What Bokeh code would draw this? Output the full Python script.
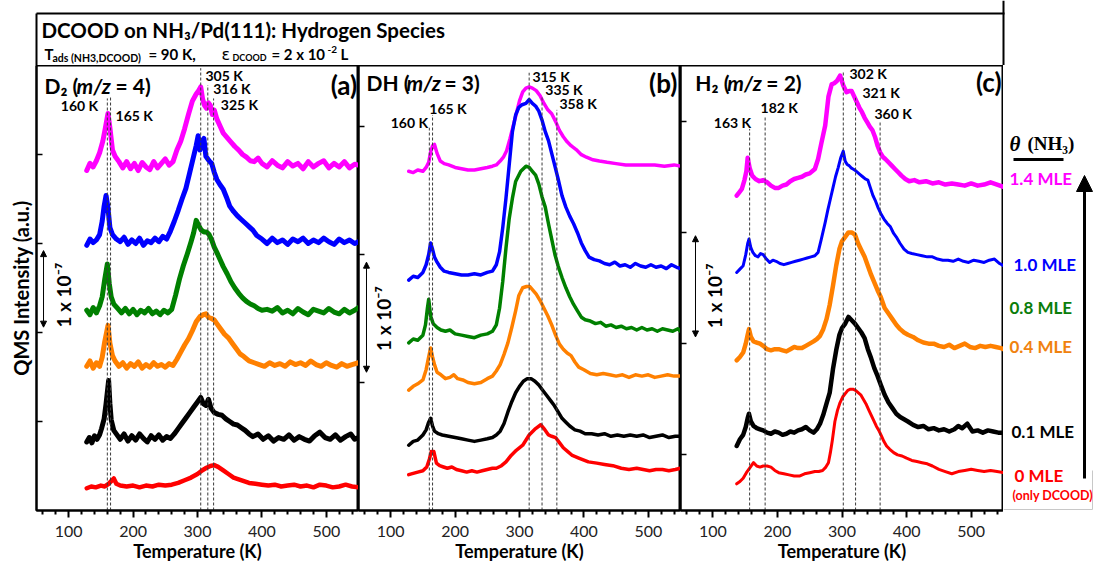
import math
from bokeh.plotting import figure
from bokeh.layouts import column, row
from bokeh.models import Range1d, FixedTicker, Arrow, NormalHead
from bokeh.core.properties import value
from bokeh.embed import file_html
from bokeh.resources import INLINE

FONT = "Lato"
SERIF = "Liberation Serif"

# ---------------- data ----------------
coverage_labels = ["1.4 MLE", "1.0 MLE", "0.8 MLE", "0.4 MLE", "0.1 MLE", "0 MLE"]
series_colors = ["#ff00ff", "#0000ff", "#008000", "#ff8000", "#000000", "#ff0000"]
label_colors = ["#ff00ff", "#0000ff", "#0a7d0a", "#f0820f", "#000000", "#ff0000"]

temperature_ticks = [100, 200, 300, 400, 500]
temperature_minor_ticks = [60, 80, 120, 140, 160, 180, 220, 240, 260, 280, 320, 340,
                           360, 380, 420, 440, 460, 480, 520, 540]

# Panel (a) D2 (m/z = 4): (T [K], offset intensity)
d2_14 = [(128,3.82),(133,3.90),(138,3.86),(143,3.93),(148,4.02),(153,4.15),(157,4.30),(161,4.46),(164,4.30),(168,4.05),(172,3.98),(178,3.92),(184,3.85),(190,3.92),(196,3.84),(202,3.90),(208,3.82),(214,3.91),(220,3.86),(226,3.83),(232,3.92),(238,3.85),(244,3.90),(250,3.95),(256,3.88),(262,3.92),(268,4.05),(274,4.15),(280,4.29),(286,4.45),(292,4.60),(298,4.68),(302,4.72),(305,4.76),(308,4.62),(311,4.55),(314,4.52),(317,4.58),(320,4.55),(323,4.45),(326,4.50),(330,4.40),(335,4.32),(340,4.24),(346,4.19),(352,4.14),(358,4.09),(364,4.05),(370,4.00),(376,3.97),(382,3.93),(388,3.92),(394,3.96),(400,3.90),(408,3.86),(416,3.93),(424,3.88),(432,3.85),(440,3.92),(448,3.87),(456,3.90),(464,3.84),(472,3.92),(480,3.86),(488,3.90),(496,3.93),(504,3.85),(512,3.90),(520,3.86),(528,3.92),(536,3.85),(544,3.89),(550,3.88)]
d2_10 = [(128,2.98),(133,3.05),(138,3.01),(143,3.04),(148,3.10),(152,3.25),(155,3.42),(158,3.54),(161,3.40),(164,3.18),(168,3.10),(174,3.05),(180,3.02),(186,3.07),(192,2.99),(198,3.04),(204,3.00),(210,3.06),(216,2.98),(222,3.03),(228,3.01),(234,3.06),(240,3.02),(246,3.08),(252,3.05),(258,3.14),(264,3.25),(270,3.37),(276,3.50),(282,3.62),(288,3.80),(294,3.98),(298,4.10),(301,4.21),(304,4.05),(307,4.15),(310,4.18),(313,3.98),(316,3.95),(319,3.92),(322,3.90),(326,3.80),(330,3.72),(335,3.66),(340,3.61),(345,3.52),(350,3.42),(356,3.36),(362,3.31),(368,3.27),(374,3.23),(380,3.19),(386,3.15),(392,3.09),(400,3.05),(408,3.00),(416,3.06),(424,3.01),(432,3.04),(440,2.99),(448,3.05),(456,3.02),(464,3.06),(472,3.00),(480,3.04),(488,3.01),(496,3.06),(504,3.02),(512,2.99),(520,3.05),(528,3.01),(536,3.04),(544,3.00),(550,3.02)]
d2_08 = [(128,2.25),(133,2.20),(138,2.28),(143,2.22),(148,2.30),(152,2.40),(156,2.60),(160,2.77),(163,2.55),(166,2.40),(170,2.32),(176,2.27),(182,2.22),(188,2.27),(194,2.21),(200,2.26),(206,2.20),(212,2.25),(218,2.22),(224,2.27),(230,2.21),(236,2.24),(242,2.20),(248,2.25),(254,2.22),(260,2.26),(266,2.42),(272,2.60),(278,2.75),(284,2.88),(290,3.02),(294,3.12),(298,3.26),(302,3.20),(306,3.15),(310,3.13),(314,3.13),(318,3.10),(322,3.04),(326,2.96),(330,2.90),(335,2.82),(340,2.74),(346,2.66),(352,2.57),(358,2.50),(364,2.44),(370,2.39),(376,2.35),(382,2.32),(388,2.30),(394,2.27),(400,2.25),(408,2.26),(416,2.24),(424,2.28),(432,2.22),(440,2.25),(448,2.21),(456,2.27),(464,2.23),(472,2.20),(480,2.26),(488,2.24),(496,2.22),(504,2.27),(512,2.23),(520,2.21),(528,2.26),(536,2.22),(544,2.25),(550,2.28)]
d2_04 = [(128,1.62),(133,1.68),(138,1.60),(143,1.66),(148,1.62),(152,1.72),(156,1.90),(161,2.08),(164,1.88),(168,1.74),(172,1.68),(178,1.62),(184,1.66),(190,1.60),(196,1.65),(202,1.62),(208,1.67),(214,1.60),(220,1.64),(226,1.61),(232,1.66),(238,1.62),(244,1.64),(250,1.61),(256,1.65),(262,1.63),(268,1.70),(274,1.78),(280,1.86),(286,1.93),(292,2.02),(298,2.12),(304,2.18),(309,2.20),(313,2.21),(317,2.17),(321,2.16),(326,2.14),(330,2.10),(336,2.04),(342,1.98),(348,1.94),(354,1.88),(360,1.82),(366,1.76),(372,1.73),(380,1.68),(388,1.66),(396,1.64),(404,1.62),(412,1.66),(420,1.63),(428,1.65),(436,1.62),(444,1.67),(452,1.64),(460,1.66),(468,1.63),(476,1.68),(484,1.64),(492,1.62),(500,1.66),(508,1.63),(516,1.61),(524,1.65),(532,1.62),(540,1.64),(550,1.66)]
d2_01 = [(128,0.77),(132,0.82),(136,0.76),(140,0.84),(144,0.80),(148,0.85),(151,0.92),(155,1.03),(158,1.20),(162,1.46),(164,1.20),(166,1.02),(170,0.90),(175,0.85),(180,0.80),(186,0.86),(192,0.78),(198,0.84),(204,0.79),(210,0.86),(216,0.81),(222,0.77),(228,0.84),(234,0.80),(240,0.85),(246,0.79),(252,0.83),(258,0.81),(264,0.86),(270,0.92),(276,0.98),(282,1.04),(288,1.10),(294,1.16),(300,1.22),(305,1.27),(309,1.20),(313,1.18),(317,1.25),(321,1.15),(326,1.10),(332,1.08),(338,1.07),(344,1.03),(350,1.00),(356,0.97),(362,0.96),(368,0.93),(374,0.90),(380,0.86),(386,0.83),(394,0.86),(402,0.80),(410,0.84),(418,0.78),(426,0.82),(434,0.80),(442,0.85),(450,0.79),(458,0.83),(466,0.80),(474,0.78),(482,0.84),(490,0.88),(498,0.82),(506,0.80),(514,0.85),(522,0.79),(530,0.83),(538,0.86),(544,0.80),(550,0.82)]
d2_00 = [(128,0.25),(135,0.27),(142,0.26),(150,0.28),(156,0.27),(162,0.30),(166,0.33),(170,0.36),(174,0.30),(180,0.28),(190,0.27),(200,0.28),(210,0.26),(220,0.28),(230,0.27),(240,0.29),(250,0.28),(260,0.29),(270,0.31),(280,0.34),(290,0.37),(300,0.41),(307,0.45),(314,0.48),(320,0.50),(326,0.51),(332,0.49),(340,0.45),(348,0.41),(356,0.37),(364,0.35),(372,0.33),(380,0.31),(390,0.30),(400,0.29),(410,0.28),(420,0.29),(430,0.27),(440,0.28),(450,0.29),(460,0.27),(470,0.28),(480,0.26),(490,0.29),(500,0.28),(510,0.26),(520,0.27),(530,0.29),(540,0.27),(550,0.26)]

# Panel (b) DH (m/z = 3)
dh_14 = [(128,2.65),(135,2.64),(142,2.66),(150,2.65),(155,2.68),(159,2.72),(162,2.80),(165,2.85),(168,2.86),(172,2.79),(177,2.73),(183,2.71),(190,2.70),(200,2.68),(210,2.67),(220,2.66),(230,2.66),(240,2.67),(250,2.68),(258,2.69),(264,2.70),(270,2.73),(275,2.76),(280,2.81),(285,2.90),(290,3.00),(295,3.10),(300,3.20),(305,3.27),(310,3.30),(315,3.31),(320,3.30),(326,3.28),(332,3.24),(338,3.18),(344,3.13),(350,3.10),(356,3.04),(362,2.97),(368,2.92),(374,2.88),(380,2.85),(388,2.82),(396,2.78),(404,2.76),(414,2.74),(424,2.73),(436,2.72),(450,2.71),(465,2.70),(480,2.70),(495,2.70),(510,2.70),(525,2.69),(540,2.70),(550,2.69)]
dh_10 = [(128,1.80),(135,1.83),(142,1.82),(150,1.86),(155,1.92),(159,2.00),(162,2.09),(165,2.04),(168,1.98),(172,1.94),(177,1.90),(183,1.87),(190,1.86),(200,1.85),(210,1.84),(220,1.84),(230,1.85),(240,1.84),(250,1.86),(258,1.87),(264,1.92),(269,2.02),(274,2.21),(279,2.44),(284,2.70),(289,2.96),(294,3.09),(299,3.15),(304,3.17),(310,3.18),(315,3.21),(320,3.18),(325,3.16),(330,3.12),(335,3.05),(340,2.96),(345,2.89),(350,2.79),(355,2.69),(360,2.59),(366,2.46),(372,2.37),(378,2.30),(384,2.24),(390,2.17),(396,2.09),(402,2.03),(408,1.98),(416,1.96),(424,1.95),(432,1.93),(440,1.92),(448,1.94),(456,1.91),(464,1.92),(472,1.90),(480,1.93),(488,1.91),(496,1.90),(504,1.92),(512,1.90),(520,1.91),(528,1.89),(536,1.92),(544,1.90),(550,1.89)]
dh_08 = [(128,1.31),(135,1.34),(142,1.33),(150,1.37),(154,1.45),(157,1.58),(159,1.65),(162,1.52),(166,1.46),(172,1.43),(178,1.41),(185,1.40),(192,1.41),(200,1.38),(210,1.37),(220,1.36),(230,1.35),(240,1.37),(250,1.38),(258,1.40),(264,1.45),(269,1.58),(274,1.79),(279,2.05),(284,2.28),(289,2.44),(294,2.57),(302,2.65),(310,2.69),(315,2.68),(320,2.65),(325,2.62),(330,2.55),(335,2.45),(340,2.37),(345,2.24),(350,2.12),(355,2.00),(360,1.91),(366,1.82),(372,1.74),(378,1.67),(384,1.61),(390,1.56),(396,1.51),(402,1.49),(410,1.48),(418,1.46),(426,1.47),(434,1.44),(442,1.45),(450,1.43),(458,1.44),(466,1.42),(474,1.43),(482,1.41),(490,1.43),(498,1.41),(506,1.42),(514,1.40),(522,1.42),(530,1.41),(538,1.40),(546,1.42),(550,1.40)]
dh_04 = [(128,0.94),(135,0.97),(142,0.99),(150,1.02),(155,1.10),(159,1.20),(162,1.27),(165,1.20),(168,1.14),(172,1.08),(178,1.06),(185,1.03),(192,1.04),(198,1.06),(204,1.03),(212,1.02),(220,1.00),(230,0.99),(240,1.00),(250,1.03),(258,1.05),(264,1.09),(270,1.14),(276,1.22),(282,1.31),(288,1.43),(294,1.56),(299,1.68),(305,1.74),(311,1.75),(316,1.75),(321,1.72),(326,1.69),(332,1.64),(338,1.58),(344,1.52),(350,1.45),(356,1.37),(362,1.30),(368,1.26),(374,1.23),(380,1.21),(386,1.16),(392,1.12),(400,1.10),(410,1.07),(420,1.06),(430,1.07),(440,1.06),(450,1.05),(460,1.06),(470,1.04),(480,1.06),(490,1.05),(500,1.06),(510,1.04),(520,1.05),(530,1.06),(540,1.05),(550,1.05)]
dh_01 = [(128,0.51),(135,0.54),(142,0.55),(150,0.59),(155,0.63),(159,0.69),(162,0.72),(165,0.66),(168,0.62),(174,0.60),(180,0.59),(190,0.58),(200,0.57),(210,0.56),(220,0.55),(230,0.54),(240,0.55),(250,0.56),(258,0.57),(264,0.59),(270,0.62),(276,0.68),(282,0.77),(288,0.85),(294,0.92),(300,0.97),(306,1.01),(312,1.03),(318,1.03),(324,1.01),(330,0.98),(336,0.94),(342,0.90),(348,0.86),(354,0.82),(360,0.77),(366,0.72),(372,0.69),(378,0.66),(386,0.63),(394,0.62),(402,0.60),(412,0.60),(422,0.59),(432,0.60),(442,0.58),(452,0.59),(462,0.58),(472,0.59),(482,0.58),(492,0.59),(502,0.57),(512,0.58),(522,0.59),(532,0.57),(542,0.58),(550,0.58)]
dh_00 = [(128,0.28),(135,0.29),(142,0.30),(150,0.31),(156,0.34),(160,0.40),(163,0.46),(167,0.46),(171,0.37),(176,0.35),(182,0.34),(188,0.33),(195,0.34),(202,0.32),(210,0.31),(218,0.30),(226,0.31),(234,0.30),(242,0.31),(250,0.32),(258,0.33),(264,0.33),(272,0.35),(279,0.38),(287,0.43),(295,0.47),(305,0.51),(315,0.59),(325,0.64),(333,0.67),(338,0.64),(345,0.59),(350,0.58),(356,0.57),(362,0.53),(368,0.49),(375,0.46),(382,0.43),(392,0.41),(407,0.38),(420,0.37),(432,0.36),(445,0.35),(458,0.33),(470,0.32),(482,0.33),(492,0.32),(502,0.31),(512,0.32),(522,0.32),(532,0.31),(542,0.32),(550,0.33)]

# Panel (c) H2 (m/z = 2)  (no 0.8 MLE trace)
h2_14 = [(137,2.83),(141,2.86),(145,2.89),(149,2.97),(152,3.05),(154,3.17),(157,3.08),(161,3.01),(166,2.98),(172,2.96),(178,2.97),(184,2.95),(190,2.92),(196,2.90),(202,2.90),(208,2.92),(214,2.93),(220,2.96),(226,2.98),(232,2.99),(238,3.00),(244,3.02),(250,3.03),(258,3.07),(263,3.16),(268,3.30),(274,3.46),(279,3.72),(284,3.83),(288,3.84),(292,3.86),(297,3.91),(302,3.82),(307,3.76),(311,3.77),(315,3.77),(319,3.72),(323,3.67),(327,3.62),(331,3.58),(335,3.53),(339,3.49),(343,3.45),(347,3.42),(351,3.36),(355,3.28),(359,3.22),(363,3.18),(367,3.16),(372,3.13),(377,3.10),(382,3.07),(387,3.04),(392,3.01),(398,2.98),(404,2.96),(412,2.97),(420,2.95),(430,2.96),(440,2.94),(450,2.95),(460,2.93),(470,2.94),(480,2.93),(490,2.92),(500,2.94),(510,2.92),(520,2.93),(530,2.95),(540,2.93),(550,2.91)]
h2_10 = [(137,2.14),(142,2.17),(147,2.20),(151,2.30),(154,2.40),(156,2.44),(159,2.36),(162,2.32),(166,2.29),(170,2.28),(174,2.31),(178,2.30),(183,2.26),(188,2.23),(193,2.25),(198,2.24),(204,2.22),(210,2.21),(216,2.22),(222,2.23),(228,2.24),(234,2.25),(240,2.26),(246,2.27),(252,2.28),(258,2.29),(263,2.32),(268,2.44),(274,2.59),(278,2.70),(282,2.80),(286,2.90),(290,3.00),(294,3.08),(298,3.17),(302,3.23),(305,3.14),(308,3.11),(311,3.10),(314,3.08),(317,3.07),(320,3.06),(324,3.04),(328,3.02),(332,3.00),(336,2.98),(340,2.97),(344,2.90),(348,2.83),(352,2.78),(356,2.72),(360,2.67),(365,2.62),(370,2.58),(375,2.55),(380,2.49),(385,2.45),(390,2.40),(396,2.35),(402,2.32),(408,2.31),(416,2.30),(424,2.29),(432,2.28),(440,2.28),(448,2.26),(456,2.25),(464,2.25),(472,2.24),(480,2.26),(488,2.24),(496,2.23),(504,2.25),(512,2.24),(520,2.23),(528,2.25),(536,2.26),(544,2.22),(550,2.20)]
h2_04 = [(137,1.35),(142,1.38),(147,1.42),(151,1.50),(154,1.58),(156,1.63),(159,1.56),(163,1.52),(168,1.51),(173,1.50),(178,1.48),(184,1.45),(190,1.44),(196,1.45),(202,1.45),(208,1.44),(214,1.43),(220,1.45),(226,1.47),(232,1.46),(238,1.46),(244,1.48),(250,1.50),(256,1.52),(261,1.54),(266,1.57),(271,1.63),(276,1.72),(281,1.85),(286,2.02),(291,2.20),(296,2.35),(300,2.42),(305,2.46),(310,2.50),(315,2.50),(320,2.48),(325,2.40),(330,2.34),(335,2.28),(340,2.20),(345,2.12),(350,2.05),(355,1.98),(360,1.92),(366,1.82),(372,1.77),(378,1.72),(384,1.67),(390,1.63),(396,1.60),(402,1.58),(410,1.56),(418,1.53),(426,1.51),(434,1.50),(442,1.50),(450,1.48),(458,1.47),(466,1.49),(474,1.46),(482,1.48),(490,1.50),(498,1.47),(506,1.46),(514,1.48),(522,1.47),(530,1.48),(538,1.47),(546,1.46),(550,1.45)]
h2_01 = [(137,0.58),(142,0.64),(147,0.68),(151,0.75),(154,0.83),(156,0.87),(159,0.80),(163,0.76),(168,0.74),(173,0.73),(178,0.72),(184,0.70),(190,0.69),(196,0.71),(202,0.70),(208,0.68),(214,0.69),(220,0.71),(226,0.70),(232,0.72),(238,0.73),(244,0.75),(250,0.72),(256,0.70),(261,0.73),(266,0.78),(271,0.86),(276,0.96),(281,1.06),(286,1.27),(291,1.44),(296,1.58),(300,1.64),(305,1.68),(310,1.74),(315,1.71),(320,1.68),(325,1.64),(330,1.60),(335,1.55),(340,1.45),(345,1.37),(350,1.28),(355,1.21),(360,1.13),(366,1.04),(372,0.97),(378,0.92),(384,0.87),(390,0.84),(396,0.82),(402,0.80),(410,0.77),(418,0.75),(426,0.76),(434,0.73),(442,0.74),(450,0.72),(458,0.73),(466,0.71),(474,0.73),(480,0.76),(486,0.74),(494,0.78),(502,0.71),(510,0.72),(518,0.70),(526,0.72),(534,0.71),(542,0.70),(550,0.70)]
h2_00 = [(137,0.24),(142,0.26),(147,0.29),(152,0.34),(157,0.38),(163,0.43),(168,0.40),(173,0.39),(178,0.40),(184,0.40),(190,0.39),(196,0.36),(202,0.34),(210,0.33),(218,0.32),(226,0.31),(234,0.31),(242,0.33),(250,0.34),(258,0.35),(264,0.35),(270,0.36),(275,0.39),(279,0.43),(282,0.52),(285,0.63),(289,0.80),(293,0.90),(297,0.97),(301,1.02),(305,1.05),(309,1.08),(313,1.09),(317,1.09),(321,1.08),(325,1.06),(329,1.04),(333,1.00),(337,0.96),(341,0.91),(345,0.86),(349,0.81),(353,0.76),(357,0.72),(361,0.67),(365,0.62),(369,0.58),(374,0.55),(380,0.52),(386,0.50),(393,0.49),(400,0.47),(408,0.45),(416,0.44),(424,0.43),(432,0.42),(440,0.40),(450,0.37),(460,0.35),(470,0.33),(480,0.35),(490,0.36),(500,0.37),(510,0.36),(520,0.35),(530,0.36),(540,0.35),(550,0.34)]

# Peak marker temperatures and their labels
a_mark_T = [160, 165, 305, 316, 325]
a_mark_labels = ["160 K", "165 K", "305 K", "316 K", "325 K"]
b_mark_T = [160, 165, 315, 335, 358]
b_mark_labels = ["160 K", "165 K", "315 K", "335 K", "358 K"]
c_mark_T = [157, 181, 302, 321, 359]
c_mark_labels = ["163 K", "182 K", "302 K", "321 K", "360 K"]

# ---------------- helpers ----------------
def txt(p, x, y, s, size, color="black", style="bold", align="left", baseline="middle",
        font=FONT, angle=0.0, x_offset=0, y_offset=0):
    p.text(x=[x], y=[y], text=[s], text_font=value(font), text_font_style=style,
           text_font_size=size, text_color=color, text_align=align,
           text_baseline=baseline, angle=angle, x_offset=x_offset, y_offset=y_offset)


def make_panel(curves, widths, colors, ymax, yticks, marks, mark_tops, mark_labels, label_pos,
               header, header_pos, header_offsets, tag, tag_pos, bar, bar_label_pos,
               left=0, frame_w=322, ylabel=None):
    p = figure(frame_width=frame_w, frame_height=445, x_range=Range1d(50, 550),
               y_range=Range1d(0, ymax), output_backend="svg", toolbar_location=None,
               min_border_left=left, min_border_right=0, min_border_top=0,
               min_border_bottom=55, background_fill_color="white",
               border_fill_color="white")
    p.outline_line_color = "black"
    p.outline_line_width = 2
    p.xgrid.visible = False
    p.ygrid.visible = False

    xa = p.xaxis[0]
    xa.ticker = FixedTicker(ticks=temperature_ticks, minor_ticks=temperature_minor_ticks)
    xa.axis_line_width = 2
    xa.major_tick_out = 7
    xa.major_tick_in = 0
    xa.minor_tick_out = 4
    xa.minor_tick_in = 0
    xa.major_tick_line_width = 2
    xa.minor_tick_line_width = 2
    xa.major_label_text_font = FONT
    xa.major_label_text_font_size = "16px"
    xa.major_label_text_color = "#222222"
    xa.major_label_standoff = 8
    xa.axis_label = "Temperature (K)"
    xa.axis_label_text_font = FONT
    xa.axis_label_text_font_style = "bold"
    xa.axis_label_text_font_size = "18px"
    xa.axis_label_text_color = "black"
    xa.axis_label_standoff = 0

    ya = p.yaxis[0]
    ya.ticker = FixedTicker(ticks=yticks, minor_ticks=[])
    ya.axis_line_width = 2
    ya.major_tick_in = 6
    ya.major_tick_out = 0
    ya.minor_tick_in = 0
    ya.minor_tick_out = 0
    ya.major_tick_line_width = 1.5
    ya.major_label_overrides = {float(t): "" for t in yticks}
    ya.major_label_standoff = 0
    if ylabel:
        ya.axis_label = ylabel
        ya.axis_label_text_font = FONT
        ya.axis_label_text_font_style = "bold"
        ya.axis_label_text_font_size = "20px"
        ya.axis_label_text_color = "black"
        ya.axis_label_standoff = 4

    for pts, c, w in zip(curves, colors, widths):
        p.line([t for t, _ in pts], [v for _, v in pts], line_color=c, line_width=w,
               line_join="round", line_cap="round")

    p.segment(x0=marks, y0=[0] * len(marks), x1=marks, y1=mark_tops,
              line_color="#3a3a3a", line_width=1, line_dash="3 2")

    for lab, (lx, ly, al) in zip(mark_labels, label_pos):
        txt(p, lx, ly, lab, "14px", align=al)

    hx, hy = header_pos
    txt(p, hx, hy, header[0], "21px")
    txt(p, hx, hy, header[1], "21px", style="bold italic", x_offset=header_offsets[0])
    txt(p, hx, hy, header[2], "21px", x_offset=header_offsets[1])
    txt(p, tag_pos[0], tag_pos[1], tag, "26px", align="right")

    bx, by0, by1 = bar
    p.add_layout(Arrow(x_start=bx, y_start=by0, x_end=bx, y_end=by1, line_width=1,
                       line_color="black",
                       start=NormalHead(size=6, fill_color="black", line_color="black"),
                       end=NormalHead(size=6, fill_color="black", line_color="black")))
    txt(p, bar_label_pos[0], bar_label_pos[1], "1 x 10\u207b\u2077", "19px",
        align="center", angle=math.pi / 2)
    return p


pa = make_panel(
    [d2_14, d2_10, d2_08, d2_04, d2_01, d2_00], [5, 5, 5, 5, 5, 4.5], series_colors,
    5.0, [1, 2, 3, 4],
    a_mark_T, [4.63, 4.64, 4.97, 4.78, 4.63], a_mark_labels,
    [(116.8, 4.55, "center"), (172.7, 4.44, "left"), (312.4, 4.89, "left"),
     (324.3, 4.74, "left"), (336.2, 4.56, "left")],
    ["D\u2082 (", "m/z", "= 4)"], (62.4, 4.78), (32, 71),
    "(a)", (548, 4.78), (60.9, 2.06, 2.92), (92, 2.42),
    left=36, frame_w=322, ylabel="QMS Intensity (a.u.)")

pb = make_panel(
    [dh_14, dh_10, dh_08, dh_04, dh_01, dh_00], [3.5] * 6, series_colors,
    445 / 128, [1, 2, 3],
    b_mark_T, [2.99, 3.09, 3.42, 3.24, 3.13], b_mark_labels,
    [(129, 3.03, "center"), (160, 3.14, "left"), (320, 3.39, "left"),
     (340, 3.29, "left"), (362, 3.18, "left")],
    ["DH (", "m/z", "= 3)"], (62.4, 3.34), (40, 78),
    "(b)", (545, 3.34), (62.4, 1.08, 1.94), (88.8, 1.5),
    left=0, frame_w=322)

c_colors = [series_colors[i] for i in (0, 1, 3, 4, 5)]
pc = make_panel(
    [h2_14, h2_10, h2_04, h2_01, h2_00], [4.5, 3, 4.5, 4.5, 3], c_colors,
    4.0, [0.5, 1.5, 2.5, 3.5],
    c_mark_T, [3.43, 3.55, 3.94, 3.71, 3.50], c_mark_labels,
    [(130.5, 3.49, "center"), (174, 3.62, "left"), (311.6, 3.93, "left"),
     (331.7, 3.76, "left"), (350.3, 3.57, "left")],
    ["H\u2082 (", "m/z", "= 2)"], (73, 3.85), (32, 71),
    "(c)", (547, 3.85), (73.2, 1.56, 2.47), (102.7, 1.93),
    left=0, frame_w=323)

# ---------------- title strip ----------------
tf = figure(width=1093, height=65, x_range=Range1d(0, 1093), y_range=Range1d(65, 0),
            x_axis_type=None, y_axis_type=None, min_border=0, toolbar_location=None,
            output_backend="svg", outline_line_color=None)
tf.segment(x0=[36, 36, 1003], y0=[13, 13, 0], x1=[1004, 36, 1003], y1=[13, 65, 65],
           line_color="black", line_width=2)
txt(tf, 41, 29, "DCOOD on NH\u2083/Pd(111): Hydrogen Species", "20.5px")
txt(tf, 44, 53, "T", "15px")
txt(tf, 52, 57, "ads (NH3,DCOOD)", "10.5px")
txt(tf, 148, 53, "= 90 K,", "15px")
txt(tf, 221, 54, "\u03b5", "16px", style="normal", font="DejaVu Sans")
txt(tf, 232, 57, "DCOOD", "9px")
txt(tf, 271, 53, "= 2 x 10", "15px")
txt(tf, 327, 49, "-2", "10px")
txt(tf, 340, 53, "L", "15px")

# ---------------- right-hand coverage key ----------------
lg = figure(frame_width=90, frame_height=500, x_range=Range1d(1003, 1093),
            y_range=Range1d(565, 65), x_axis_type=None, y_axis_type=None, min_border=0,
            toolbar_location=None, output_backend="svg", outline_line_color=None)
lg.segment(x0=[1003, 1092], y0=[509, 470], x1=[1092, 1092], y1=[509, 509],
           line_color="#c8c8c8", line_width=1)
txt(lg, 1009, 143, "\u03b8", "21px", style="bold italic", font=SERIF)
txt(lg, 1027, 143, "(NH\u2083)", "19px", font=SERIF)
lg.segment(x0=[1013], y0=[159], x1=[1063], y1=[159], line_color="black", line_width=3)
legend_x = [1009, 1013, 1009, 1009, 1011, 1014]
legend_y = [178, 264, 307, 346, 431, 475]
for lab, c, lx, ly in zip(coverage_labels, label_colors, legend_x, legend_y):
    txt(lg, lx, ly, lab, "17px", color=c)
txt(lg, 1012, 495, "(only DCOOD)", "12.5px", color="#ff0000")
lg.add_layout(Arrow(x_start=1084, y_start=478, x_end=1084, y_end=175, line_width=3,
                    line_color="black",
                    end=NormalHead(size=16, fill_color="black", line_color="black")))

layout = column(tf, row(pa, pb, pc, lg))
open("out.html", "w").write(file_html(layout, INLINE, title="DCOOD on NH3/Pd(111)"))
